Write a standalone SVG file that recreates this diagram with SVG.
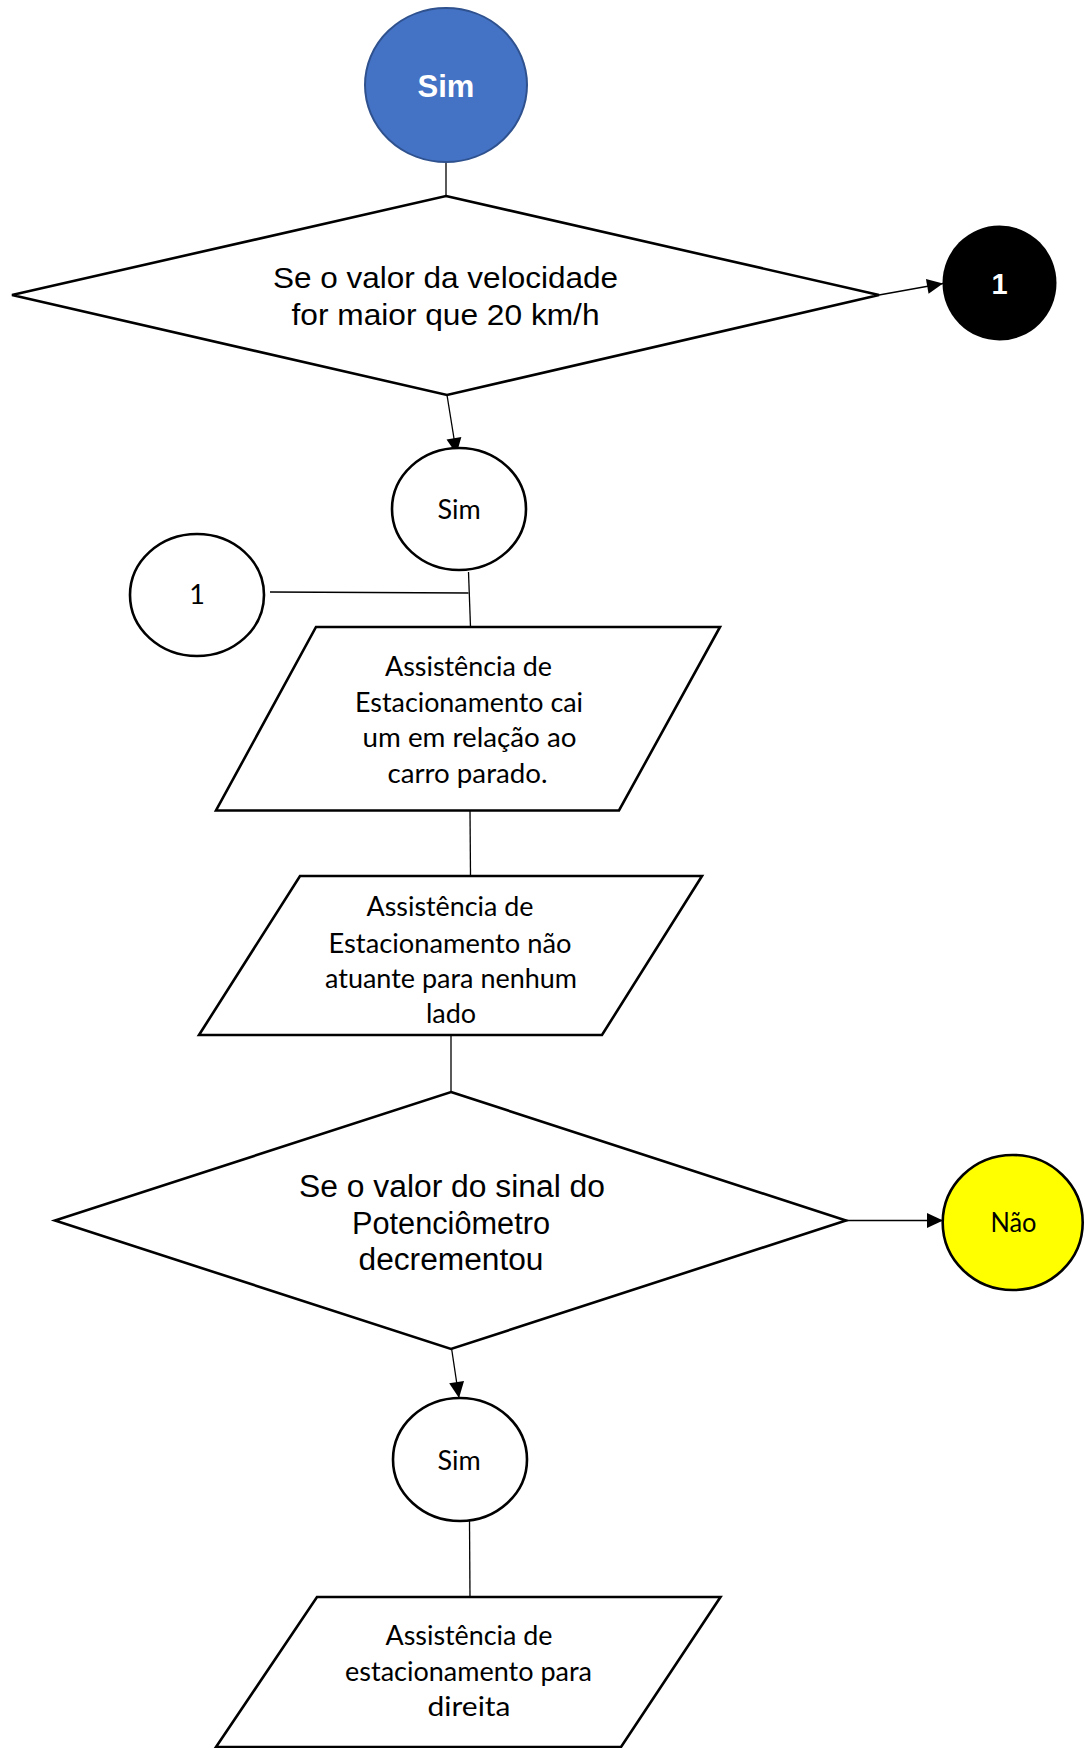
<svg xmlns="http://www.w3.org/2000/svg" width="1085" height="1748" viewBox="0 0 1085 1748">
<style>
.shape{fill:#fff;stroke:#000;stroke-width:2.6}
.conn{fill:none;stroke:#000;stroke-width:1.3}
.ar{font-family:"Liberation Sans",Arial,sans-serif;fill:#000;text-anchor:middle}
.ca{font-family:Lato,"Open Sans",sans-serif;fill:#000;text-anchor:middle;font-size:27px}
</style>
<defs>
<marker id="arrow" markerUnits="userSpaceOnUse" markerWidth="17" markerHeight="16" refX="16" refY="7.5" orient="auto" overflow="visible">
<path d="M0,0 L16,7.5 L0,15 z" fill="#000"/>
</marker>
</defs>
<rect width="1085" height="1748" fill="#fff"/>
<g id="connectors">
<line class="conn" x1="446" y1="161" x2="446" y2="196"/>
<line class="conn" x1="879" y1="295" x2="943" y2="283.5" marker-end="url(#arrow)"/>
<line class="conn" x1="447" y1="395" x2="456.5" y2="454" marker-end="url(#arrow)"/>
<line class="conn" x1="468.5" y1="572" x2="470.5" y2="627"/>
<line class="conn" x1="270" y1="592" x2="468.5" y2="593"/>
<line class="conn" x1="470" y1="811" x2="470.5" y2="876"/>
<line class="conn" x1="451" y1="1035" x2="451" y2="1092"/>
<line class="conn" x1="846" y1="1220.5" x2="943" y2="1220.5" marker-end="url(#arrow)"/>
<line class="conn" x1="451.5" y1="1348" x2="459" y2="1398" marker-end="url(#arrow)"/>
<line class="conn" x1="469.5" y1="1521" x2="470" y2="1597"/>
</g>
<g id="start">
<ellipse cx="446" cy="85" rx="81" ry="77" fill="#4472C4" stroke="#2F528F" stroke-width="2"/>
<text class="ar" x="446" y="96.5" font-size="31" font-weight="bold" style="fill:#fff">Sim</text>
</g>
<g id="decision1">
<polygon class="shape" points="446,196 879,295 447,395 12,295"/>
<text class="ar" x="445.5" y="288" font-size="30" textLength="345" lengthAdjust="spacingAndGlyphs">Se o valor da velocidade</text>
<text class="ar" x="445.5" y="325" font-size="30" textLength="308" lengthAdjust="spacingAndGlyphs">for maior que 20 km/h</text>
</g>
<g id="connector1-out">
<ellipse cx="999.5" cy="283" rx="57" ry="57.5" fill="#000"/>
<text class="ar" x="999.5" y="294" font-size="29" font-weight="bold" style="fill:#fff">1</text>
</g>
<g id="sim1">
<ellipse class="shape" cx="459" cy="509" rx="67" ry="61"/>
<text class="ca" x="459" y="518.5">Sim</text>
</g>
<g id="connector1-in">
<ellipse class="shape" cx="197" cy="595" rx="67" ry="61"/>
<text class="ca" x="197" y="604">1</text>
</g>
<g id="output1">
<polygon class="shape" points="316,627 720,627 619,810.5 216,810.5"/>
<text class="ca" x="468.5" y="676" textLength="167" lengthAdjust="spacingAndGlyphs">Assistência de</text>
<text class="ca" x="469" y="711.5" textLength="228" lengthAdjust="spacingAndGlyphs">Estacionamento cai</text>
<text class="ca" x="469.5" y="747" textLength="214" lengthAdjust="spacingAndGlyphs">um em relação ao</text>
<text class="ca" x="467.5" y="782.5" textLength="160" lengthAdjust="spacingAndGlyphs">carro parado.</text>
</g>
<g id="output2">
<polygon class="shape" points="300,876 702,876 602,1035 199,1035"/>
<text class="ca" x="450" y="916" textLength="167" lengthAdjust="spacingAndGlyphs">Assistência de</text>
<text class="ca" x="450" y="952.5" textLength="243" lengthAdjust="spacingAndGlyphs">Estacionamento não</text>
<text class="ca" x="451" y="987.5" textLength="252" lengthAdjust="spacingAndGlyphs">atuante para nenhum</text>
<text class="ca" x="451" y="1023">lado</text>
</g>
<g id="decision2">
<polygon class="shape" points="451,1092 846,1220.5 451,1349 55,1220.5"/>
<text class="ar" x="452" y="1197" font-size="31" textLength="306" lengthAdjust="spacingAndGlyphs">Se o valor do sinal do</text>
<text class="ar" x="451" y="1234" font-size="31" textLength="198" lengthAdjust="spacingAndGlyphs">Potenciômetro</text>
<text class="ar" x="451" y="1270" font-size="31" textLength="185" lengthAdjust="spacingAndGlyphs">decrementou</text>
</g>
<g id="nao">
<ellipse cx="1012.7" cy="1222.5" rx="70" ry="67.5" fill="#FFFF00" stroke="#000" stroke-width="2.6"/>
<text class="ca" x="1013.5" y="1231.5" textLength="46" lengthAdjust="spacingAndGlyphs">Não</text>
</g>
<g id="sim2">
<ellipse class="shape" cx="460" cy="1459.5" rx="67" ry="61.5"/>
<text class="ca" x="459" y="1470">Sim</text>
</g>
<g id="output3">
<polygon class="shape" points="317,1597 720.5,1597 621,1747 216,1747"/>
<text class="ca" x="469" y="1645" textLength="167" lengthAdjust="spacingAndGlyphs">Assistência de</text>
<text class="ca" x="468.5" y="1680.5" textLength="247" lengthAdjust="spacingAndGlyphs">estacionamento para</text>
<text class="ca" x="469" y="1716" textLength="83" lengthAdjust="spacingAndGlyphs">direita</text>
</g>
</svg>
